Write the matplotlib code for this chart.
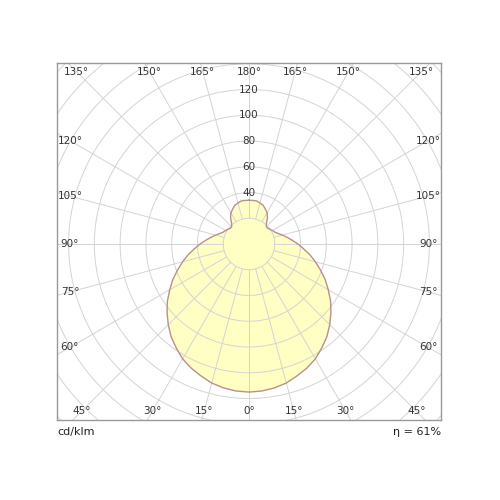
import numpy as np
import matplotlib.pyplot as plt

# luminous intensity (cd/klm) vs angle from nadir, symmetric
angles = [0, 5, 10, 15, 20, 25, 30, 35, 40, 45, 50, 55, 60, 65, 70, 75, 80, 85, 90,
          95, 100, 105, 110, 115, 120, 125, 130, 135,
          140, 145, 150, 155, 160, 165, 170, 175, 180]
intensity = [115, 114.6, 113.5, 111.8, 109, 106.3, 103, 98.5, 94, 88.6, 83, 77.3, 71,
             65.2, 59, 53.3, 48, 42.5, 38, 33.6, 30, 26.8, 24, 22, 21, 20, 19, 19,
             21, 25, 28, 30, 32, 33, 34, 34, 34]
ring_labels = [40, 60, 80, 100, 120]
eta = "η = 61%"

fig = plt.figure(figsize=(5, 5), dpi=100)
ax = fig.add_axes([57 / 500, 80 / 500, 384 / 500, 357 / 500])
xmin, xmax, ymin, ymax = -149, 149, -136.7, 140.6
ax.set_xlim(xmin, xmax)
ax.set_ylim(ymin, ymax)
ax.set_aspect('auto')
ax.set_xticks([])
ax.set_yticks([])
for s in ax.spines.values():
    s.set_color('#999999')
    s.set_linewidth(1)

# curve, mirrored on both sides
a = np.radians(np.array(angles))
r = np.array(intensity)
full_a = np.concatenate([-a[::-1], a[1:]])
full_r = np.concatenate([r[::-1], r[1:]])
x = full_r * np.sin(full_a)
y = -full_r * np.cos(full_a)
ax.fill(x, y, color='#ffffc4', zorder=1)
ax.plot(x, y, color='#b89090', lw=1, zorder=3)

# grid
grid_c = '#d4d4d4'
t = np.linspace(0, 2 * np.pi, 300)
for rr in range(20, 240, 20):
    ax.plot(rr * np.cos(t), rr * np.sin(t), color=grid_c, lw=0.7, zorder=2)
for deg in range(0, 360, 15):
    ang = np.radians(deg)
    ax.plot([20 * np.sin(ang), 300 * np.sin(ang)], [-20 * np.cos(ang), -300 * np.cos(ang)],
            color=grid_c, lw=0.7, zorder=2)

for v in ring_labels:
    ax.text(0, v, str(v), ha='center', va='center', fontsize=7.5, color='#333333', zorder=4)

# angle labels along the frame
lx, ty, by = 139, 133.6, -130
for deg in range(0, 181, 15):
    ang = np.radians(deg)
    dx, dy = np.sin(ang), -np.cos(ang)
    for sgn in ([1, -1] if 0 < deg < 180 else [1]):
        ddx = dx * sgn
        cands = []
        if abs(ddx) > 1e-9:
            cands.append(lx / abs(ddx))
        if dy > 1e-9:
            cands.append(ty / dy)
        elif dy < -1e-9:
            cands.append(-by / -dy)
        k = min(cands)
        ax.text(ddx * k, dy * k, f"{deg}°", ha='center', va='center', fontsize=7.5,
                color='#333333', zorder=4)

fig.text(57 / 500, 1 - 432 / 500, "cd/klm", ha='left', va='center', fontsize=8, color='#222222')
fig.text(441 / 500, 1 - 432 / 500, eta, ha='right', va='center', fontsize=8, color='#222222')

fig.savefig('out.png', dpi=100)
